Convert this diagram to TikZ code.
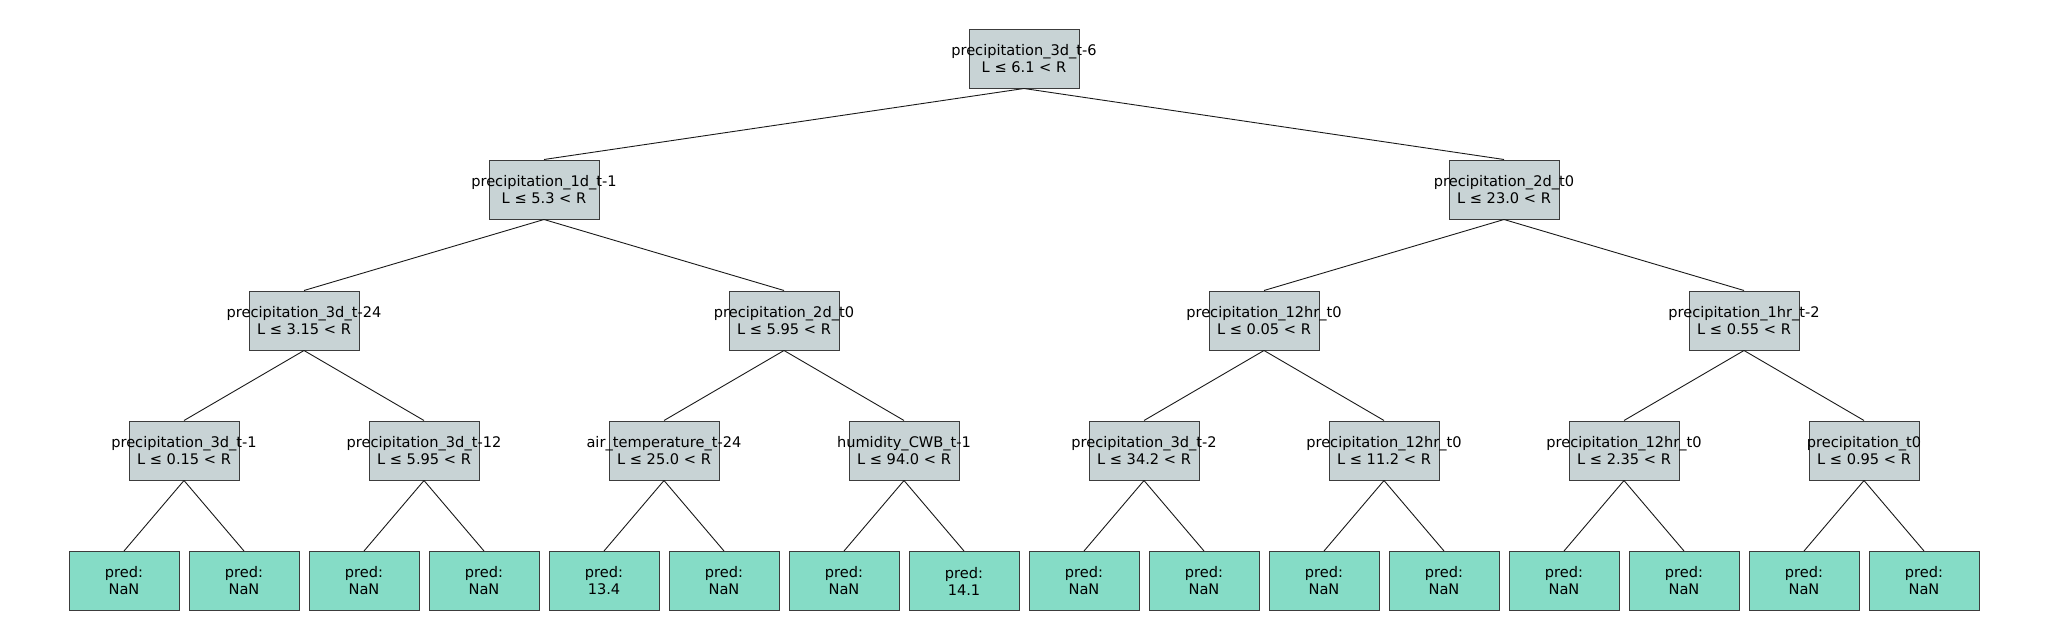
\documentclass[tikz,border=0pt]{standalone}
\usepackage{fontspec}
\setmainfont{DejaVu Sans}
\definecolor{splitfill}{RGB}{200,211,213}
\definecolor{leaffill}{RGB}{133,220,198}
\definecolor{boxline}{RGB}{60,60,60}
\newcommand\twoline[2]{\makebox[0pt]{#1}\\\makebox[0pt]{#2}}
\tikzset{
  basebox/.style={draw=boxline, line width=1pt, minimum width=110pt, minimum height=59pt, inner sep=0pt, align=center, font=\fontsize{14.6}{17}\selectfont},
  splitbox/.style={basebox, fill=splitfill},
  leafbox/.style={basebox, fill=leaffill},
  edge/.style={draw=black!90, line width=0.9pt}
}
\begin{document}
\begin{tikzpicture}[x=1pt,y=-1pt]
\useasboundingbox (0,0) rectangle (2048,640);
% root
\node[splitbox] (r) at (1024,58.5) {\twoline{precipitation\_3d\_t-6}{L ≤ 6.1 < R}};
% level 1
\node[splitbox] (a) at (544,189.5) {\twoline{precipitation\_1d\_t-1}{L ≤ 5.3 < R}};
\node[splitbox] (b) at (1504,189.5) {\twoline{precipitation\_2d\_t0}{L ≤ 23.0 < R}};
% level 2
\node[splitbox] (aa) at (304,320.5) {\twoline{precipitation\_3d\_t-24}{L ≤ 3.15 < R}};
\node[splitbox] (ab) at (784,320.5) {\twoline{precipitation\_2d\_t0}{L ≤ 5.95 < R}};
\node[splitbox] (ba) at (1264,320.5) {\twoline{precipitation\_12hr\_t0}{L ≤ 0.05 < R}};
\node[splitbox] (bb) at (1744,320.5) {\twoline{precipitation\_1hr\_t-2}{L ≤ 0.55 < R}};
% level 3
\node[splitbox] (c1) at (184,450.5) {\twoline{precipitation\_3d\_t-1}{L ≤ 0.15 < R}};
\node[splitbox] (c2) at (424,450.5) {\twoline{precipitation\_3d\_t-12}{L ≤ 5.95 < R}};
\node[splitbox] (c3) at (664,450.5) {\twoline{air\_temperature\_t-24}{L ≤ 25.0 < R}};
\node[splitbox] (c4) at (904,450.5) {\twoline{humidity\_CWB\_t-1}{L ≤ 94.0 < R}};
\node[splitbox] (c5) at (1144,450.5) {\twoline{precipitation\_3d\_t-2}{L ≤ 34.2 < R}};
\node[splitbox] (c6) at (1384,450.5) {\twoline{precipitation\_12hr\_t0}{L ≤ 11.2 < R}};
\node[splitbox] (c7) at (1624,450.5) {\twoline{precipitation\_12hr\_t0}{L ≤ 2.35 < R}};
\node[splitbox] (c8) at (1864,450.5) {\twoline{precipitation\_t0}{L ≤ 0.95 < R}};
% leaves
\node[leafbox] (l1) at (124,581) {pred:\\NaN};
\node[leafbox] (l2) at (244,581) {pred:\\NaN};
\node[leafbox] (l3) at (364,581) {pred:\\NaN};
\node[leafbox] (l4) at (484,581) {pred:\\NaN};
\node[leafbox] (l5) at (604,581) {pred:\\13.4};
\node[leafbox] (l6) at (724,581) {pred:\\NaN};
\node[leafbox] (l7) at (844,581) {pred:\\NaN};
\node[leafbox] (l8) at (964,581) {pred:\\14.1};
\node[leafbox] (l9) at (1084,581) {pred:\\NaN};
\node[leafbox] (l10) at (1204,581) {pred:\\NaN};
\node[leafbox] (l11) at (1324,581) {pred:\\NaN};
\node[leafbox] (l12) at (1444,581) {pred:\\NaN};
\node[leafbox] (l13) at (1564,581) {pred:\\NaN};
\node[leafbox] (l14) at (1684,581) {pred:\\NaN};
\node[leafbox] (l15) at (1804,581) {pred:\\NaN};
\node[leafbox] (l16) at (1924,581) {pred:\\NaN};
% edges
\foreach \p/\c in {r/a,r/b,a/aa,a/ab,b/ba,b/bb,aa/c1,aa/c2,ab/c3,ab/c4,ba/c5,ba/c6,bb/c7,bb/c8,
  c1/l1,c1/l2,c2/l3,c2/l4,c3/l5,c3/l6,c4/l7,c4/l8,c5/l9,c5/l10,c6/l11,c6/l12,c7/l13,c7/l14,c8/l15,c8/l16}
  \draw[edge] (\p.south) -- (\c.north);
\end{tikzpicture}
\end{document}
